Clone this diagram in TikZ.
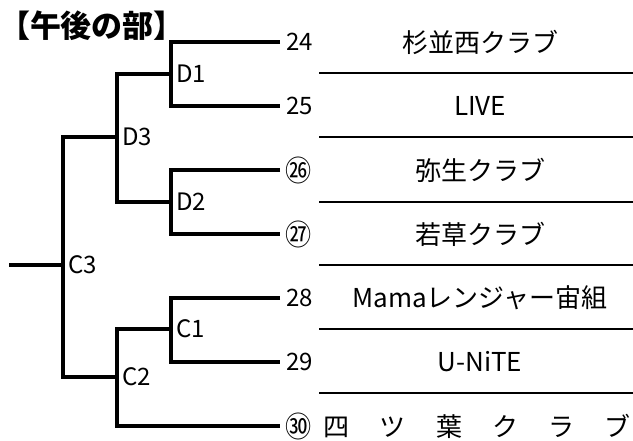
\documentclass[tikz,border=0pt]{standalone}
\usepackage{fontspec}
\setmainfont{Noto Sans CJK JP}
\begin{document}
\begin{tikzpicture}[x=1pt,y=-1pt,
    bracket/.style={line width=3.2pt},
    rowline/.style={line width=1.4pt},
    circnum/.style={font=\fontsize{29}{32}\selectfont,xscale=0.9}]

        \useasboundingbox (0,0) rectangle (633,441);

        \node[font=\fontsize{31}{34}\selectfont\bfseries] (title) at (92,26) {【午後の部】};

        % entry numbers
        \begin{scope}[every node/.style={anchor=west,inner xsep=6pt,inner ysep=0pt,font=\fontsize{24}{27}\selectfont}]
          \node (t24) at (280,42)  {24};
          \node (t25) at (280,106) {25};
          \node[circnum] (t26) at (280,170) {㉖};
          \node[circnum] (t27) at (280,234) {㉗};
          \node (t28) at (280,298) {28};
          \node (t29) at (280,362) {29};
          \node[circnum] (t30) at (280,426) {㉚};
        \end{scope}

        % team names
        \begin{scope}[every node/.style={inner sep=0pt,font=\fontsize{26}{30}\selectfont}]
          \node (s24) at (480,42)  {杉並西クラブ};
          \node (s25) at (480,106) {LIVE};
          \node (s26) at (480,170) {弥生クラブ};
          \node (s27) at (480,234) {若草クラブ};
          \node (s28) at (480,298) {Mamaレンジャー宙組};
          \node (s29) at (480,362) {U-NiTE};
          \node[anchor=east] (s30) at (631,426) {\makebox[307pt][s]{四\hfill ツ\hfill 葉\hfill ク\hfill ラ\hfill ブ}};
        \end{scope}

        \foreach \y in {73,137,202,265,329,393}
          \draw[rowline] (319,\y) -- (633,\y);

        \coordinate (D1) at (171,74);
        \coordinate (D2) at (171,202);
        \coordinate (D3) at (117,137);
        \coordinate (C1) at (171,329);
        \coordinate (C2) at (117,377);
        \coordinate (C3) at (63,265);
        \coordinate (root) at (9,265);

        \draw[bracket] (t24.west) -| (D1) |- (t25.west);
        \draw[bracket] (t26.west) -| (D2) |- (t27.west);
        \draw[bracket] (D1) -| (D3) |- (D2);
        \draw[bracket] (t28.west) -| (C1) |- (t29.west);
        \draw[bracket] (C1) -| (C2) |- (t30.west);
        \draw[bracket] (D3) -| (C3) |- (C2);
        \draw[bracket] (root) -- (C3);

        % match labels
        \begin{scope}[every node/.style={anchor=west,inner xsep=5pt,font=\fontsize{24}{27}\selectfont}]
          \node (lD1) at (D1) {D1};
          \node (lD2) at (D2) {D2};
          \node (lD3) at (D3) {D3};
          \node (lC1) at (C1) {C1};
          \node (lC2) at (C2) {C2};
          \node (lC3) at (C3) {C3};
        \end{scope}

      \end{tikzpicture}
\end{document}
